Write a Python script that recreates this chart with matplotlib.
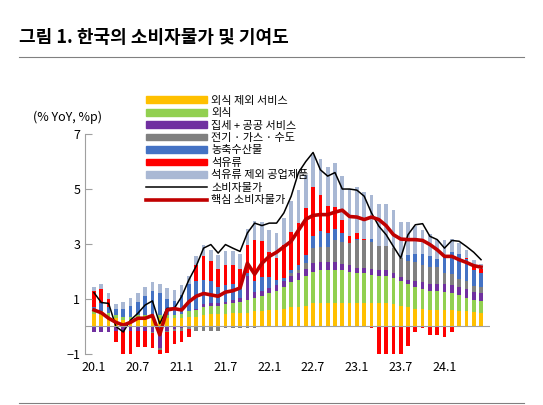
import numpy as np
import matplotlib.pyplot as plt
from matplotlib.lines import Line2D
from matplotlib.patches import Patch

plt.rcParams['font.family'] = ['Noto Sans CJK KR', 'DejaVu Sans']

# === DONNÉES (2020.1 ~ 2024.6, mensuel) ===
service_ex_dining = [.45, .4, .35, .3, .25, .25, .3, .3, .3, .3, .3, .3,
                     .3, .35, .35, .4, .45, .45, .45, .5, .5, .5, .55, .55,
                     .6, .6, .65, .7, .7, .75, .84, .84, .84, .84, .84, .84,
                     .84, .84, .84, .84, .84, .8, .75, .7, .65, .62, .6, .6,
                     .6, .6, .58, .55, .52, .5]
dining = [.15, .15, .15, .12, .1, .1, .1, .1, .1, .1, .1, .12,
          .15, .2, .25, .3, .3, .3, .35, .35, .4, .45, .5, .55,
          .6, .7, .8, .9, 1.0, 1.1, 1.16, 1.2, 1.2, 1.2, 1.2, 1.15,
          1.1, 1.1, 1.05, 1.0, 1.0, .95, .9, .85, .8, .75, .7, .7,
          .65, .6, .55, .5, .45, .43]
rent_public = [-.2, -.2, -.2, -.15, -.15, -.15, -.15, -.15, -.2, -.8, -.15, -.1,
               -.05, 0, .05, .1, .1, .1, .1, .1, .15, .9, .2, .2,
               .2, .2, .2, .25, .25, .25, .3, .3, .3, .3, .25, .25,
               .2, .2, .2, .2, .2, .2, .15, .15, .2, .25, .25, .25,
               .3, .3, .3, .3, .3, .3]
utilities = [0, 0, 0, 0, 0, 0, 0, 0, -.05, -.05, -.05, -.05,
             -.1, -.1, -.15, -.15, -.15, -.15, -.05, -.05, -.05, -.05, -.05, 0,
             0, 0, 0, .1, .1, .2, .55, .55, .55, .8, .8, .8,
             1.0, 1.0, 1.0, .9, .9, .9, .7, .7, .7, .6, .6, .6,
             .4, .4, .3, .3, .2, .2]
agri = [.1, .3, .2, .2, .3, .4, .5, .7, .9, .8, .6, .5,
        .7, 1.0, 1.0, .9, .8, .6, .6, .6, .4, .1, .4, .5,
        .4, .2, .1, .1, .2, .3, .43, .6, .5, .4, .3, 0,
        .05, 0, .1, 0, 0, 0, 0, .2, .3, .4, .4, .3,
        .6, .8, .9, .8, .6, .5]
oil = [.6, .5, .3, -.4, -1.0, -.9, -.6, -.6, -.55, -.85, -.75, -.5,
       -.4, -.3, .6, .85, .75, .65, .75, .7, .65, 1.0, 1.5, 1.3,
       .9, .8, 1.2, 1.4, 1.5, 1.7, 1.8, 1.3, 1.0, .8, .5, .25,
       .2, .05, -.05, -1.0, -1.3, -1.3, -1.3, -.7, -.2, -.05, -.3, -.3,
       -.4, -.2, 0, .05, .1, .15]
industrial_ex_oil = [.15, .2, .2, .2, .25, .3, .3, .35, .3, .35, .4, .4,
                     .35, .3, .3, .4, .4, .5, .5, .5, .55, .6, .7, .7,
                     .8, .9, 1.0, 1.1, 1.2, 1.2, 1.16, 1.3, 1.4, 1.6, 1.6, 1.7,
                     1.7, 1.7, 1.6, 1.5, 1.5, 1.4, 1.3, 1.2, 1.0, .9, .8, .7,
                     .6, .5, .4, .3, .25, .2]
cpi = [1.23, .87, .84, 0.0, -.2, .23, .48, .78, .93, .1, .66, .66,
       1.09, 1.7, 2.2, 2.85, 2.98, 2.67, 2.98, 2.85, 2.73, 3.4, 3.76, 3.67,
       3.76, 3.76, 4.13, 4.74, 5.6, 6.0, 6.33, 5.7, 5.47, 5.6, 5.0, 5.0,
       4.96, 4.74, 4.13, 3.65, 3.34, 2.91, 2.49, 3.34, 3.7, 3.74, 3.28, 3.16,
       2.85, 3.13, 3.1, 2.91, 2.7, 2.43]
core = [.6, .5, .3, .15, .05, .15, .3, .3, .4, -.3, .6, .65,
        .6, .9, 1.1, 1.2, 1.15, 1.1, 1.25, 1.3, 1.4, 2.3, 1.9, 2.3,
        2.55, 2.7, 2.9, 3.1, 3.5, 3.9, 4.04, 4.07, 4.07, 4.16, 4.23, 4.0,
        3.98, 3.89, 3.98, 3.89, 3.67, 3.34, 3.18, 3.16, 3.16, 3.13, 2.98, 2.79,
        2.55, 2.55, 2.43, 2.33, 2.21, 2.16]
tick_labels = ["20.1", "20.7", "21.1", "21.7", "22.1", "22.7", "23.1", "23.7", "24.1"]

series = [
    ("외식 제외 서비스", service_ex_dining, "#FFC000"),
    ("외식", dining, "#92D050"),
    ("집세 + 공공 서비스", rent_public, "#7030A0"),
    ("전기 · 가스 · 수도", utilities, "#808080"),
    ("농축수산물", agri, "#4472C4"),
    ("석유류", oil, "#FF0000"),
    ("석유류 제외 공업제품", industrial_ex_oil, "#A9B8D4"),
]

x = np.arange(len(cpi))
fig = plt.figure(figsize=(5.43, 4.05), dpi=100)
ax = fig.add_axes([0.157, 0.126, 0.745, 0.543])

pos_base = np.zeros(len(x))
neg_base = np.zeros(len(x))
for name, vals, col in series:
    v = np.array(vals, dtype=float)
    p = np.where(v > 0, v, 0)
    n = np.where(v < 0, v, 0)
    ax.bar(x, p, bottom=pos_base, width=0.5, color=col, linewidth=0)
    ax.bar(x, n, bottom=neg_base, width=0.5, color=col, linewidth=0)
    pos_base += p
    neg_base += n

ax.plot(x, cpi, color="black", lw=1.1)
ax.plot(x, core, color="#C00000", lw=2.6)
ax.axhline(0, color="#A0A0A0", lw=0.8)

ax.set_ylim(-1, 7)
ax.set_xlim(-1.2, len(x) + 0.2)
ax.set_yticks([-1, 1, 3, 5, 7])
ax.set_xticks(np.arange(0, 49, 6))
ax.set_xticklabels(tick_labels)
ax.tick_params(axis="x", length=0, labelsize=9, pad=5)
ax.tick_params(axis="y", labelsize=9, color="#A0A0A0", length=5, direction="in")
for s in ["top", "right", "bottom"]:
    ax.spines[s].set_visible(False)
ax.spines["left"].set_color("#A0A0A0")
ax.text(-0.13, 1.06, "(% YoY, %p)", transform=ax.transAxes, fontsize=9)

handles = [Patch(color=c) for _, _, c in series]
handles += [Line2D([], [], color="black", lw=1.1), Line2D([], [], color="#C00000", lw=2.6)]
labels = [n for n, _, _ in series] + ["소비자물가", "핵심 소비자물가"]
ax.legend(handles, labels, loc="upper left", bbox_to_anchor=(0.13, 1.21), frameon=False,
          fontsize=8, handlelength=5.5, handleheight=0.55, labelspacing=0.22, handletextpad=0.4,
          borderpad=0.2)

fig.text(0.035, 0.895, "그림 1. 한국의 소비자물가 및 기여도", fontsize=13, fontweight="bold")
fig.add_artist(Line2D([0.035, 0.965], [0.86, 0.86], color="#808080", lw=0.8))
fig.add_artist(Line2D([0.035, 0.965], [0.005, 0.005], color="#808080", lw=0.8))

plt.savefig("out.png", dpi=100)
